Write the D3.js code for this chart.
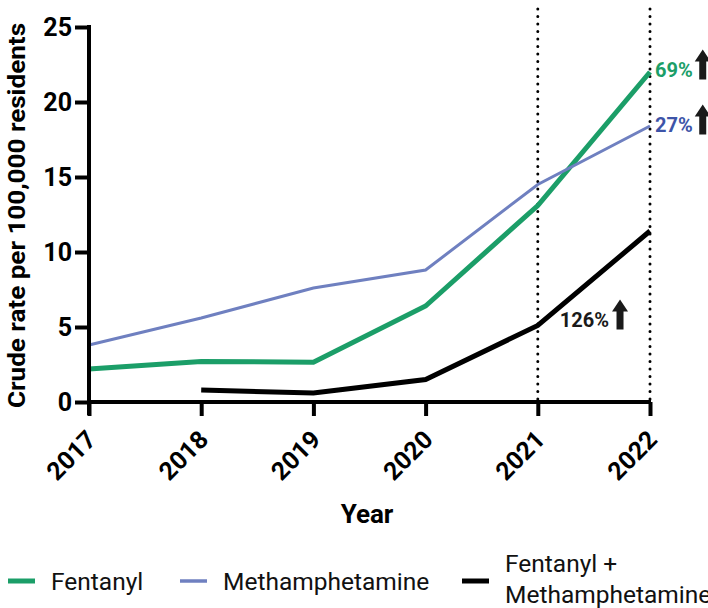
<!DOCTYPE html>
<html>
<head>
<meta charset="utf-8">
<script src="https://cdn.jsdelivr.net/npm/d3@7"></script>
<style>
  body { margin: 0; background: #fff; }
  text { font-family: Roboto, "Liberation Sans", sans-serif; }
</style>
</head>
<body>
<div id="chart"></div>
<script>
// Chart data
const years = [2017, 2018, 2019, 2020, 2021, 2022];
const fentanyl = [2.2, 2.7, 2.65, 6.4, 13.1, 22.0];
const meth = [3.8, 5.6, 7.6, 8.8, 14.5, 18.4];
const combo = [null, 0.8, 0.6, 1.5, 5.1, 11.4];
const yTicks = [0, 5, 10, 15, 20, 25];
const markedYears = [2021, 2022];

const series = [
  { name: 'Fentanyl', values: fentanyl, color: '#1b9e68', width: 5 },
  { name: 'Methamphetamine', values: meth, color: '#6f80c0', width: 3 },
  { name: 'Fentanyl + Methamphetamine', values: combo, color: '#000000', width: 5 }
];

const svg = d3.select('#chart').append('svg')
  .attr('width', 708)
  .attr('height', 608);

const x = d3.scaleLinear().domain([2017, 2022]).range([89, 650]);
const y = d3.scaleLinear().domain([0, 25]).range([402, 27]);

// Dotted reference lines
svg.selectAll('line.ref')
  .data(markedYears)
  .join('line')
    .attr('class', 'ref')
    .attr('x1', d => x(d)).attr('x2', d => x(d))
    .attr('y1', 9).attr('y2', y(0))
    .attr('stroke', '#000')
    .attr('stroke-width', 3)
    .attr('stroke-linecap', 'round')
    .attr('stroke-dasharray', '0,7.5');

// Lines
const line = d3.line()
  .defined(d => d.v !== null)
  .x(d => x(d.year))
  .y(d => y(d.v));

svg.selectAll('path.series')
  .data(series)
  .join('path')
    .attr('class', 'series')
    .attr('d', s => line(years.map((yr, i) => ({ year: yr, v: s.values[i] }))))
    .attr('fill', 'none')
    .attr('stroke', s => s.color)
    .attr('stroke-width', s => s.width);

// Y axis
const yAxis = svg.append('g')
  .attr('transform', `translate(${x(2017)},0)`)
  .call(d3.axisLeft(y).tickValues(yTicks).tickSize(14).tickPadding(3));
yAxis.select('.domain').attr('stroke-width', 4).attr('d', `M0,${y(25) - 2}V${y(0) + 13}`);
yAxis.selectAll('.tick line').attr('stroke-width', 4);
yAxis.selectAll('.tick text')
  .style('font-size', '25px')
  .style('font-weight', 'bold')
  .attr('fill', '#000');

// X axis
const xAxis = svg.append('g')
  .attr('transform', `translate(0,${y(0)})`)
  .call(d3.axisBottom(x).tickValues(years).tickFormat(d3.format('d')).tickSize(14));
xAxis.select('.domain').attr('stroke-width', 4).attr('d', `M${x(2017)},0H${x(2022) + 1}`);
xAxis.selectAll('.tick line').attr('stroke-width', 4);
xAxis.selectAll('.tick text')
  .style('font-size', '25px')
  .style('font-weight', 'bold')
  .attr('fill', '#000')
  .attr('text-anchor', 'end')
  .attr('x', 0)
  .attr('y', 0)
  .attr('dy', '0.35em')
  .attr('transform', 'translate(2,33) rotate(-45)');

// Axis titles
svg.append('text')
  .attr('x', 367)
  .attr('y', 523)
  .attr('text-anchor', 'middle')
  .style('font-size', '26px')
  .style('font-weight', 'bold')
  .text('Year');

svg.append('text')
  .attr('transform', 'translate(25,215.5) rotate(-90)')
  .attr('text-anchor', 'middle')
  .attr('textLength', 385)
  .attr('lengthAdjust', 'spacingAndGlyphs')
  .style('font-size', '24.5px')
  .style('font-weight', 'bold')
  .text('Crude rate per 100,000 residents');

// Percent change annotations
const notes = [
  { label: '69%', color: '#1b9e68', xv: 2022, yv: 22.0, dx: 5, dy: 5, gap: 10 },
  { label: '27%', color: '#3d54a8', xv: 2022, yv: 18.4, dx: 5, dy: 6, gap: 10 },
  { label: '126%', color: '#1a1a1a', xv: 2021, yv: 5.4, dx: 22, dy: 6, gap: 11 }
];

const arrow = 'M0,-15 L-8,-3 L-3.5,-3 L-3.5,15 L3.5,15 L3.5,-3 L8,-3 Z';

notes.forEach(n => {
  const t = svg.append('text')
    .attr('x', x(n.xv) + n.dx)
    .attr('y', y(n.yv) + n.dy)
    .attr('fill', n.color)
    .style('font-size', '20px')
    .style('font-weight', 'bold')
    .text(n.label);
  const w = t.node().getComputedTextLength();
  svg.append('path')
    .attr('d', arrow)
    .attr('transform', `translate(${x(n.xv) + n.dx + w + n.gap},${y(n.yv) + n.dy - 12.5})`)
    .attr('fill', '#1a1a1a');
});

// Legend
const legendItems = [
  { lines: ['Fentanyl'], color: '#1b9e68', x: 8, width: 5 },
  { lines: ['Methamphetamine'], color: '#6f80c0', x: 180, width: 3.5 },
  { lines: ['Fentanyl +', 'Methamphetamine'], color: '#000000', x: 462, width: 5 }
];

legendItems.forEach(item => {
  svg.append('line')
    .attr('x1', item.x).attr('x2', item.x + 27)
    .attr('y1', 581).attr('y2', 581)
    .attr('stroke', item.color)
    .attr('stroke-width', item.width);
  const t = svg.append('text')
    .attr('x', item.x + 43)
    .style('font-size', '24.5px')
    .attr('fill', '#111');
  if (item.lines.length === 1) {
    t.attr('y', 590).text(item.lines[0]);
  } else {
    item.lines.forEach((l, i) => {
      t.append('tspan')
        .attr('x', item.x + 43)
        .attr('y', 572 + i * 31)
        .text(l);
    });
  }
});
</script>
</body>
</html>
